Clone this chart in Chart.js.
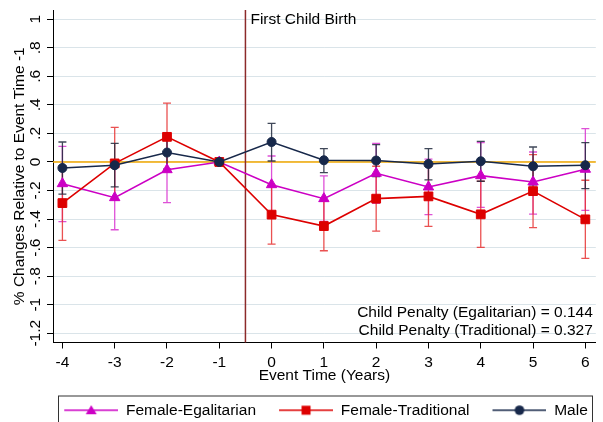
<!DOCTYPE html>
<html>
<head>
<meta charset="utf-8">
<script src="https://cdn.jsdelivr.net/npm/chart.js@4.4.1/dist/chart.umd.min.js"></script>
<style>
  html, body { margin: 0; padding: 0; background: #fff; }
  canvas { display: block; }
</style>
</head>
<body>
<canvas id="myChart" width="603" height="422"></canvas>
<script>
// event time (years relative to first birth)
const eventTimes = [-4, -3, -2, -1, 0, 1, 2, 3, 4, 5, 6];

const egalValues = [-0.152, -0.25, -0.054, 0, -0.159, -0.257, -0.079, -0.175, -0.096, -0.14, -0.051];
const egalLow    = [-0.418, -0.475, -0.285, 0, -0.36, -0.416, -0.29, -0.369, -0.318, -0.365, -0.339];
const egalHigh   = [0.11, -0.025, 0.177, 0, 0.042, -0.098, 0.131, 0.02, 0.136, 0.07, 0.234];

const tradValues = [-0.288, -0.01, 0.176, 0, -0.369, -0.449, -0.257, -0.241, -0.367, -0.204, -0.402];
const tradLow    = [-0.55, -0.26, -0.06, 0, -0.575, -0.622, -0.484, -0.451, -0.599, -0.46, -0.676];
const tradHigh   = [-0.03, 0.243, 0.412, 0, -0.163, -0.276, -0.03, -0.03, -0.135, 0.052, -0.128];

const maleValues = [-0.042, -0.023, 0.066, 0, 0.14, 0.012, 0.01, -0.014, 0.005, -0.03, -0.023];
const maleLow    = [-0.225, -0.175, -0.05, 0, 0.007, -0.075, -0.103, -0.126, -0.135, -0.16, -0.187];
const maleHigh   = [0.14, 0.13, 0.18, 0, 0.27, 0.094, 0.122, 0.094, 0.145, 0.105, 0.136];

const xTicks = [-4, -3, -2, -1, 0, 1, 2, 3, 4, 5, 6];
const yTicks = [-1.2, -1, -0.8, -0.6, -0.4, -0.2, 0, 0.2, 0.4, 0.6, 0.8, 1];

const birthTime = -0.5;
const penaltyNotes = ['Child Penalty (Egalitarian) = 0.144', 'Child Penalty (Traditional) = 0.327'];

const egalColor = '#cc00c4';
const tradColor = '#dd0000';
const maleColor = '#17284a';
const fontFamily = '"Liberation Sans", Arial, Helvetica, sans-serif';
const fontSize = 15.5;

function toPoints(values) {
  return eventTimes.map((t, i) => ({ x: t, y: values[i] }));
}

// legend icon: line with the marker in the middle (left margin gives item spacing)
function makeLegendIcon(color, style) {
  const margin = 18, lineLen = 54;
  const c = document.createElement('canvas');
  c.width = margin + lineLen;
  c.height = 16;
  const g = c.getContext('2d');
  g.strokeStyle = color;
  g.fillStyle = color;
  g.lineWidth = 1.5;
  g.beginPath();
  g.moveTo(margin, 8);
  g.lineTo(margin + lineLen, 8);
  g.stroke();
  const cx = margin + lineLen / 2;
  g.beginPath();
  if (style === 'triangle') {
    g.moveTo(cx, 3); g.lineTo(cx + 5.5, 12); g.lineTo(cx - 5.5, 12); g.closePath();
  } else if (style === 'rect') {
    g.rect(cx - 4.5, 3.5, 9, 9);
  } else {
    g.arc(cx, 8, 4.8, 0, Math.PI * 2);
  }
  g.fill();
  return c;
}

const legendIcons = [
  makeLegendIcon(egalColor, 'triangle'),
  makeLegendIcon(tradColor, 'rect'),
  makeLegendIcon(maleColor, 'circle')
];

const errorBars = [
  { low: egalLow, high: egalHigh, color: 'rgba(216, 50, 208, 0.85)' },
  { low: tradLow, high: tradHigh, color: 'rgba(230, 50, 50, 0.85)' },
  { low: maleLow, high: maleHigh, color: 'rgba(30, 40, 60, 0.85)' }
];

const decorPlugin = {
  id: 'decor',
  afterLayout(chart) {
    // centre the legend under the plot region, like the stata graph
    chart.legend.left = 35;
  },
  beforeDatasetsDraw(chart) {
    const { ctx, chartArea: a, scales: { x, y } } = chart;
    ctx.save();
    // zero line
    const y0 = y.getPixelForValue(0);
    ctx.strokeStyle = '#f2a900';
    ctx.lineWidth = 1.6;
    ctx.beginPath();
    ctx.moveTo(a.left, y0);
    ctx.lineTo(a.right, y0);
    ctx.stroke();
    // first birth line
    const xb = x.getPixelForValue(birthTime);
    ctx.strokeStyle = '#8c2a2a';
    ctx.lineWidth = 1.5;
    ctx.beginPath();
    ctx.moveTo(xb, a.top);
    ctx.lineTo(xb, a.bottom);
    ctx.stroke();
    // confidence intervals
    errorBars.forEach(eb => {
      ctx.strokeStyle = eb.color;
      ctx.lineWidth = 1.3;
      eventTimes.forEach((t, i) => {
        const px = x.getPixelForValue(t);
        const lo = y.getPixelForValue(eb.low[i]);
        const hi = y.getPixelForValue(eb.high[i]);
        ctx.beginPath();
        ctx.moveTo(px, lo); ctx.lineTo(px, hi);
        ctx.moveTo(px - 4, lo); ctx.lineTo(px + 4, lo);
        ctx.moveTo(px - 4, hi); ctx.lineTo(px + 4, hi);
        ctx.stroke();
      });
    });
    ctx.restore();
  },
  afterDraw(chart) {
    const { ctx, chartArea: a, scales: { x, y } } = chart;
    ctx.save();
    ctx.fillStyle = '#000';
    ctx.font = fontSize + 'px ' + fontFamily;
    ctx.textBaseline = 'middle';
    ctx.textAlign = 'left';
    ctx.fillText('First Child Birth', x.getPixelForValue(birthTime) + 5, y.getPixelForValue(1));
    ctx.textAlign = 'right';
    ctx.fillText(penaltyNotes[0], a.right - 3, a.bottom - 30);
    ctx.fillText(penaltyNotes[1], a.right - 3, a.bottom - 12);
    // legend frame
    const lg = chart.legend;
    ctx.strokeStyle = '#333';
    ctx.lineWidth = 1;
    ctx.strokeRect(58.5, lg.top - 1.5, 534, 60);
    ctx.restore();
  }
};

const ctx = document.getElementById('myChart').getContext('2d');
const myChart = new Chart(ctx, {
  type: 'line',
  data: {
    datasets: [{
      label: 'Female-Egalitarian',
      data: toPoints(egalValues),
      borderColor: egalColor,
      backgroundColor: egalColor,
      pointStyle: 'triangle',
      pointRadius: 6,
      pointBorderWidth: 1,
      borderWidth: 1.6,
      order: 2
    }, {
      label: 'Female-Traditional',
      data: toPoints(tradValues),
      borderColor: tradColor,
      backgroundColor: tradColor,
      pointStyle: 'rect',
      pointRadius: 6.2,
      pointBorderWidth: 1,
      borderWidth: 1.6,
      order: 1
    }, {
      label: 'Male',
      data: toPoints(maleValues),
      borderColor: maleColor,
      backgroundColor: maleColor,
      pointStyle: 'circle',
      pointRadius: 4.5,
      pointBorderWidth: 1,
      borderWidth: 1.6,
      order: 0
    }]
  },
  options: {
    responsive: false,
    animation: false,
    devicePixelRatio: 1,
    layout: { padding: { top: 10, right: 4, bottom: -6, left: 0 } },
    plugins: {
      tooltip: { enabled: false },
      legend: {
        position: 'bottom',
        align: 'center',
        labels: {
          usePointStyle: true,
          pointStyleWidth: 72,
          padding: 5,
          color: '#000',
          font: { family: fontFamily, size: fontSize },
          generateLabels: chart => chart.data.datasets.map((ds, i) => ({
            text: ds.label,
            pointStyle: legendIcons[i],
            fillStyle: 'transparent',
            strokeStyle: 'transparent',
            lineWidth: 0,
            hidden: false,
            datasetIndex: i,
            fontColor: '#000'
          }))
        }
      }
    },
    scales: {
      x: {
        type: 'linear',
        min: -4.18,
        max: 6.2,
        afterBuildTicks: s => { s.ticks = xTicks.map(v => ({ value: v })); },
        afterFit: s => { s.height = 55; },
        grid: { drawOnChartArea: false, drawTicks: true, tickLength: 6, tickColor: '#000' },
        border: { color: '#000', width: 1 },
        ticks: { color: '#000', padding: 5, font: { family: fontFamily, size: fontSize }, callback: v => String(v) },
        title: {
          display: true,
          text: 'Event Time (Years)',
          color: '#000',
          font: { family: fontFamily, size: fontSize },
          padding: { top: 0, bottom: 12 }
        }
      },
      y: {
        type: 'linear',
        min: -1.265,
        max: 1.065,
        afterBuildTicks: s => { s.ticks = yTicks.map(v => ({ value: v })); },
        afterFit: s => { s.width = 53; },
        grid: { color: '#dae4e9', lineWidth: 1, tickLength: 6, tickColor: '#000' },
        border: { color: '#000', width: 1 },
        ticks: {
          color: '#000',
          padding: -2,
          minRotation: 90,
          maxRotation: 90,
          crossAlign: 'center',
          font: { family: fontFamily, size: fontSize },
          callback: v => String(Math.round(v * 10) / 10).replace('0.', '.')
        },
        title: {
          display: true,
          text: '% Changes Relative to Event Time -1',
          color: '#000',
          font: { family: fontFamily, size: fontSize },
          padding: { top: 10, bottom: 0 }
        }
      }
    }
  },
  plugins: [decorPlugin]
});
</script>
</body>
</html>
